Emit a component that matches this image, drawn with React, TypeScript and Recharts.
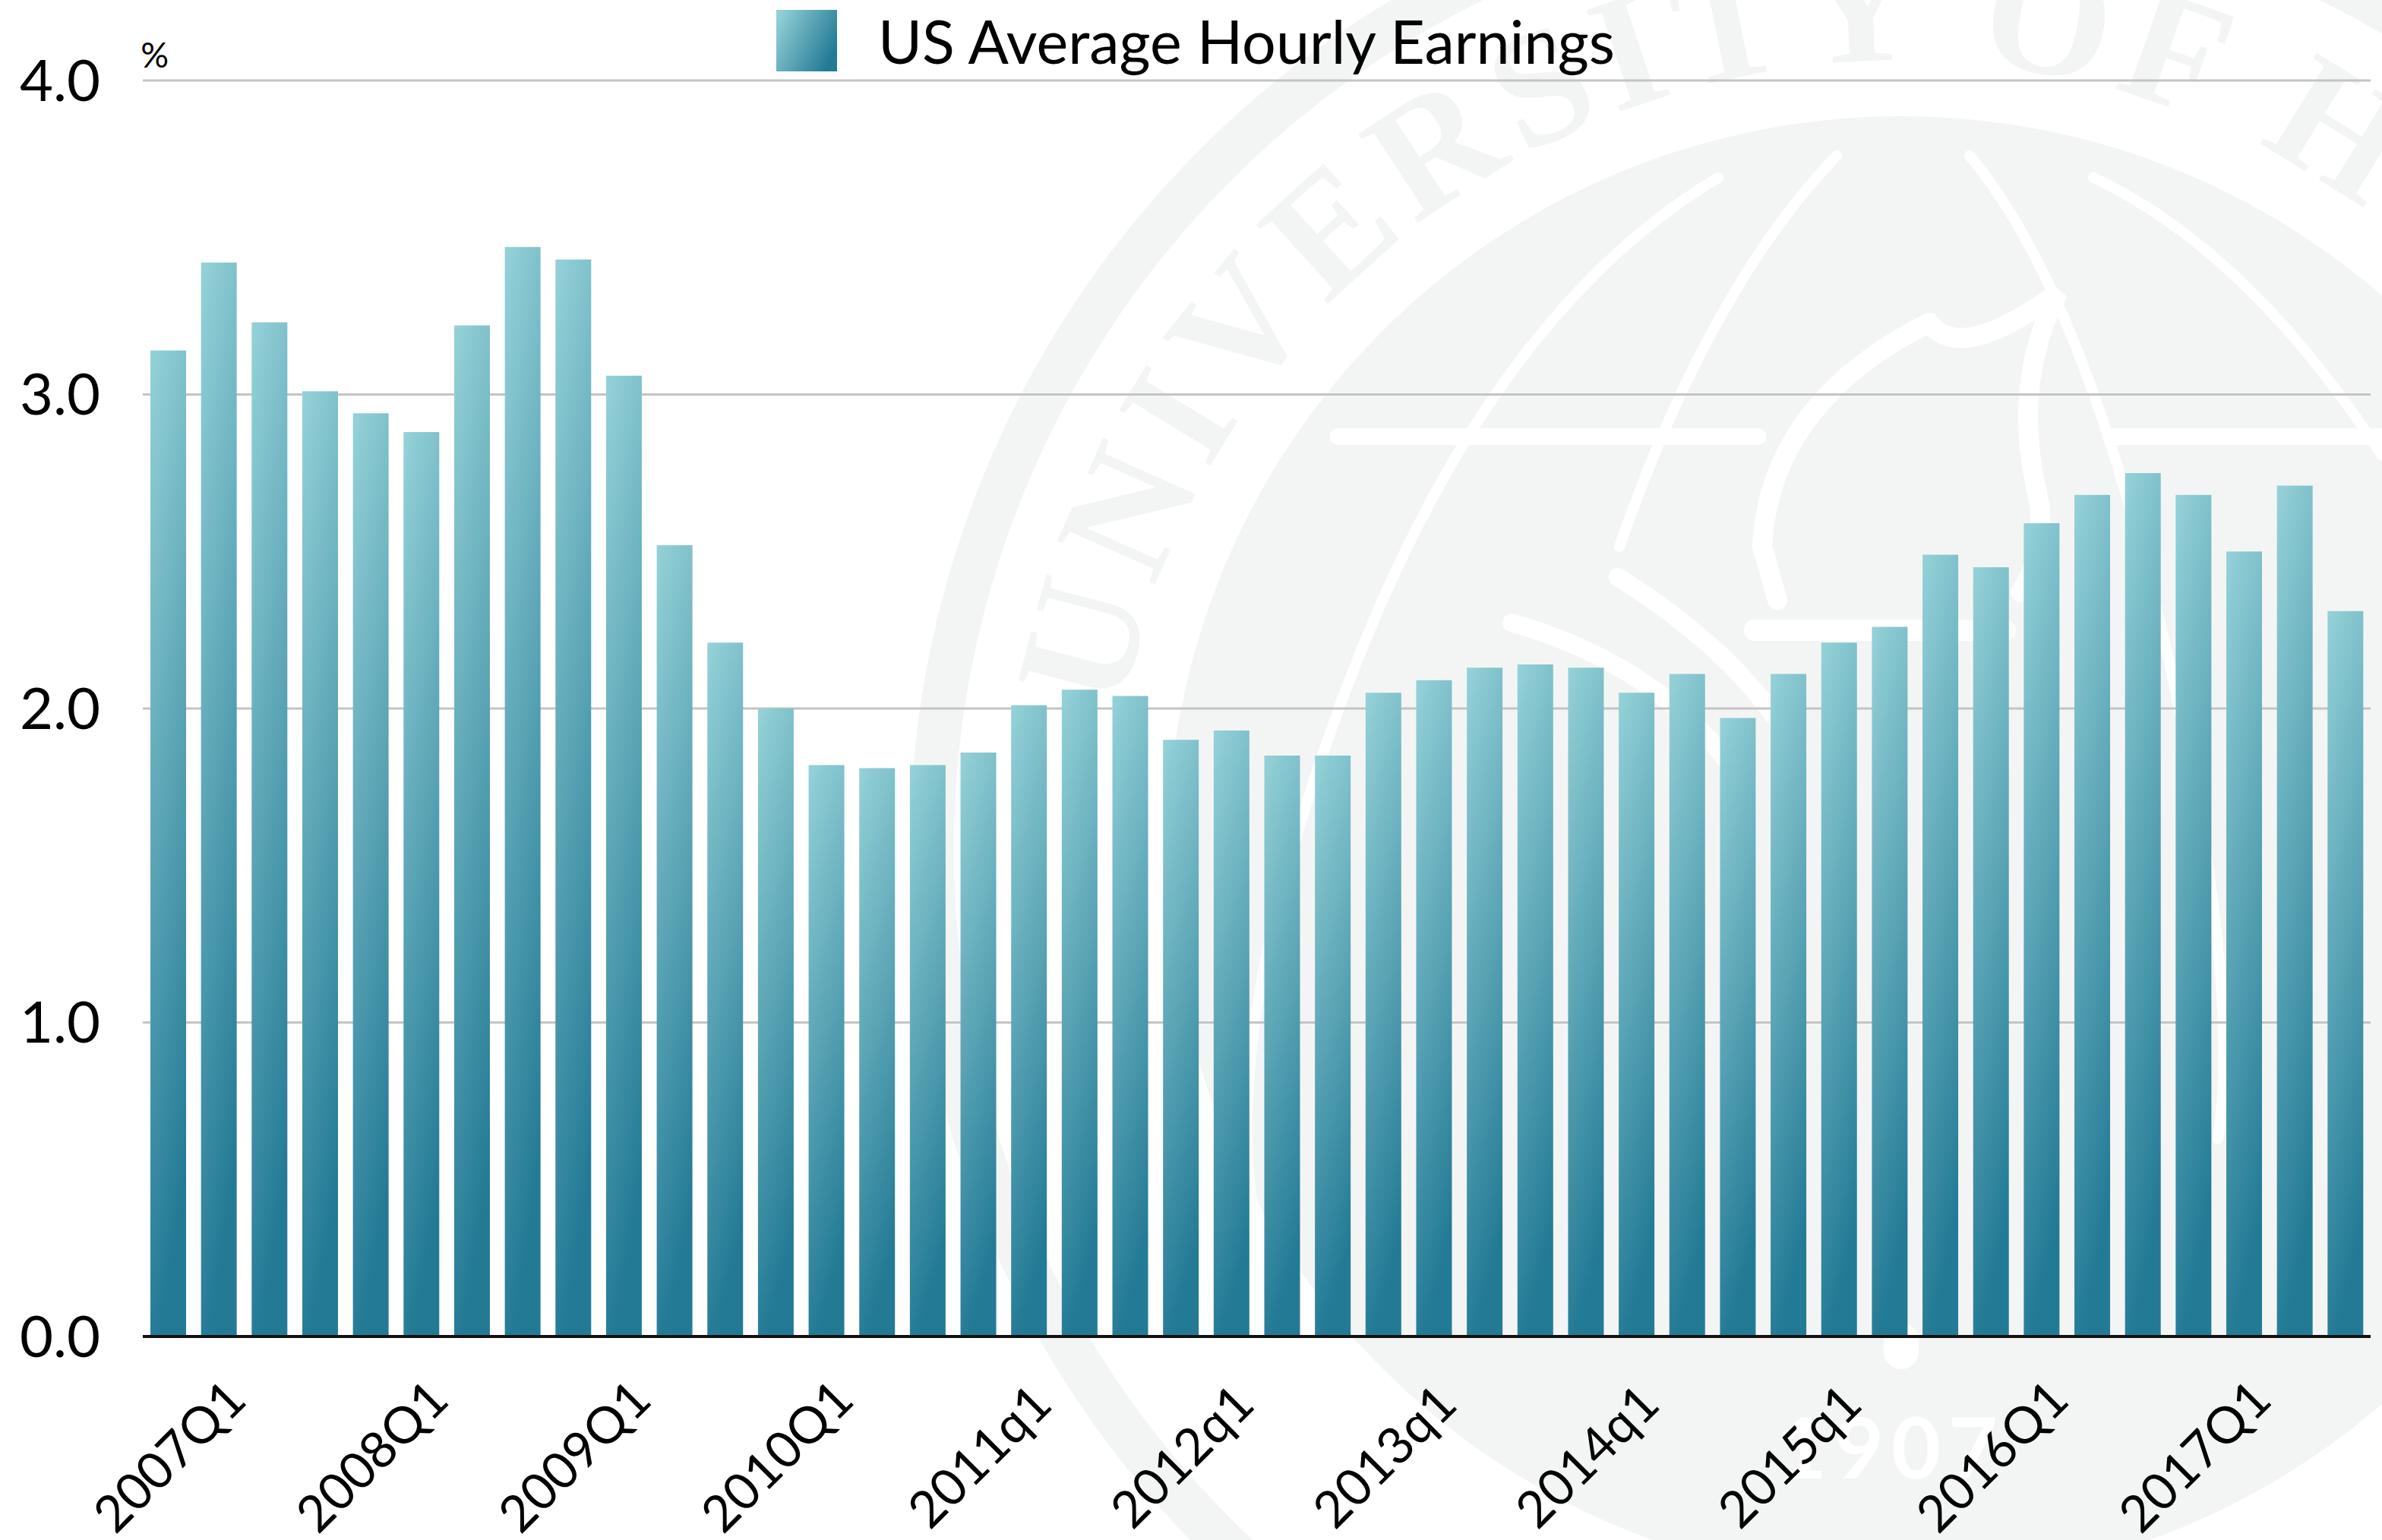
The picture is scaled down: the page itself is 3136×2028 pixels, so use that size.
import { BarChart, Bar, XAxis, YAxis, CartesianGrid, Legend, ReferenceLine, Label } from "recharts";

const quarters = [
  "2007Q1", "2007Q2", "2007Q3", "2007Q4",
  "2008Q1", "2008Q2", "2008Q3", "2008Q4",
  "2009Q1", "2009Q2", "2009Q3", "2009Q4",
  "2010Q1", "2010Q2", "2010Q3", "2010Q4",
  "2011q1", "2011q2", "2011q3", "2011q4",
  "2012q1", "2012q2", "2012q3", "2012q4",
  "2013q1", "2013q2", "2013q3", "2013q4",
  "2014q1", "2014q2", "2014q3", "2014q4",
  "2015q1", "2015q2", "2015q3", "2015q4",
  "2016Q1", "2016Q2", "2016Q3", "2016Q4",
  "2017Q1", "2017Q2", "2017Q3", "2017Q4",
];

const earnings = [
  3.14, 3.42, 3.23, 3.01,
  2.94, 2.88, 3.22, 3.47,
  3.43, 3.06, 2.52, 2.21,
  2.0, 1.82, 1.81, 1.82,
  1.86, 2.01, 2.06, 2.04,
  1.9, 1.93, 1.85, 1.85,
  2.05, 2.09, 2.13, 2.14,
  2.13, 2.05, 2.11, 1.97,
  2.11, 2.21, 2.26, 2.49,
  2.45, 2.59, 2.68, 2.75,
  2.68, 2.5, 2.71, 2.31,
];

const yTicks = [0, 1, 2, 3, 4];

const data = quarters.map((quarter, i) => ({ quarter, earnings: earnings[i] }));

const FONT = "Lato, 'Open Sans', sans-serif";
const SERIES_NAME = "US Average Hourly Earnings";

function AngledTick({ x, y, payload }: any) {
  return (
    <text
      x={x}
      y={y + 148}
      transform={`rotate(-45 ${x} ${y + 148})`}
      textAnchor="middle"
      dominantBaseline="central"
      fontFamily={FONT}
      fontSize={67}
      fill="#000"
    >
      {payload.value}
    </text>
  );
}

function LegendBox() {
  return (
    <div style={{ display: "flex", alignItems: "center", fontFamily: FONT, fontSize: 79, color: "#000" }}>
      <svg width={80} height={81} style={{ flex: "none" }}>
        <rect width={80} height={81} fill="url(#legendFill)" />
      </svg>
      <span style={{ marginLeft: 54, lineHeight: "81px", whiteSpace: "nowrap" }}>{SERIES_NAME}</span>
    </div>
  );
}

// faint university seal behind the chart
function Seal() {
  const ink = "#f3f5f4";
  return (
    <svg width={3136} height={2028} style={{ position: "absolute", left: 0, top: 0 }}>
      <defs>
        <path id="sealText" d="M 1479 938 A 1040 1040 0 1 1 3404 1639" />
      </defs>
      <circle cx={2503} cy={1119} r={1276} fill="none" stroke={ink} strokeWidth={58} />
      <circle cx={2503} cy={1119} r={966} fill={ink} />
      <text fontFamily="'Liberation Serif', serif" fontSize={215} fontWeight={700} fill={ink} letterSpacing={14}>
        <textPath href="#sealText">UNIVERSITY OF HONG KONG</textPath>
      </text>
      <g fill="none" stroke="#fff" strokeWidth={14} strokeLinecap="round">
        <path d="M 2262 234 Q 1950 420 1762 935 T 1680 1700" />
        <path d="M 2418 205 Q 2250 380 2132 720" />
        <path d="M 2593 205 Q 2740 380 2846 830 T 2920 1500" />
        <path d="M 2756 234 Q 2960 330 3136 600" />
        <path d="M 1762 575 H 2314" strokeWidth={22} />
        <path d="M 2782 575 H 3136" strokeWidth={22} />
        <path d="M 2310 830 H 2640" strokeWidth={28} />
        <path d="M 2540 425 Q 2580 480 2710 385 Q 2650 500 2680 640 Q 2700 720 2660 780" strokeWidth={26} />
        <path d="M 2540 425 Q 2330 530 2320 720 L 2340 790" strokeWidth={26} />
        <path d="M 2130 760 Q 2290 860 2360 980" strokeWidth={24} />
        <path d="M 1990 820 Q 2200 880 2300 1040" strokeWidth={24} />
        <path d="M 2503 1765 V 1780" strokeWidth={46} />
      </g>
      <text x={2340} y={1947} fontFamily={FONT} fontSize={112} fontWeight={700} letterSpacing={10} fill="#fff">
        1907
      </text>
    </svg>
  );
}

export default function App() {
  return (
    <div style={{ position: "absolute", left: 0, top: 0, width: 3136, height: 2028, background: "#fff", overflow: "hidden" }}>
      <Seal />
      <div style={{ position: "absolute", left: 0, top: 0 }}>
        <BarChart
          width={3136}
          height={2028}
          data={data}
          margin={{ top: 25, right: 15, bottom: 0, left: 0 }}
          barCategoryGap={0}
        >
          <defs>
            <linearGradient id="barFill" x1="0" y1="0" x2="0.2" y2="1">
              <stop offset="0%" stopColor="#96d2d8" />
              <stop offset="100%" stopColor="#237a95" />
            </linearGradient>
            <linearGradient id="legendFill" x1="0" y1="0.1" x2="1" y2="0.6">
              <stop offset="0%" stopColor="#96d2d8" />
              <stop offset="100%" stopColor="#237a95" />
            </linearGradient>
          </defs>
          <CartesianGrid horizontal vertical={false} stroke="#c4c4c4" strokeWidth={3} />
          <XAxis
            dataKey="quarter"
            height={268}
            interval={3}
            axisLine={false}
            tickLine={false}
            tick={AngledTick}
          />
          <YAxis
            width={188}
            domain={[0, 4]}
            ticks={yTicks}
            tickFormatter={(v) => v.toFixed(1)}
            axisLine={false}
            tickLine={false}
            tickMargin={50}
            tick={{ fontFamily: FONT, fontSize: 76, fill: "#000" }}
          >
            <Label
              value="%"
              position="insideTopRight"
              offset={0}
              dx={34}
              dy={-50}
              style={{ fontFamily: FONT, fontSize: 46, fill: "#000" }}
            />
          </YAxis>
          <ReferenceLine y={0} stroke="#111" strokeWidth={4} />
          <Legend
            verticalAlign="top"
            content={LegendBox}
            wrapperStyle={{ position: "absolute", top: 13, left: 1022, width: 1200 }}
          />
          <Bar
            dataKey="earnings"
            name={SERIES_NAME}
            fill="url(#barFill)"
            barSize={47}
            isAnimationActive={false}
          />
        </BarChart>
      </div>
    </div>
  );
}
